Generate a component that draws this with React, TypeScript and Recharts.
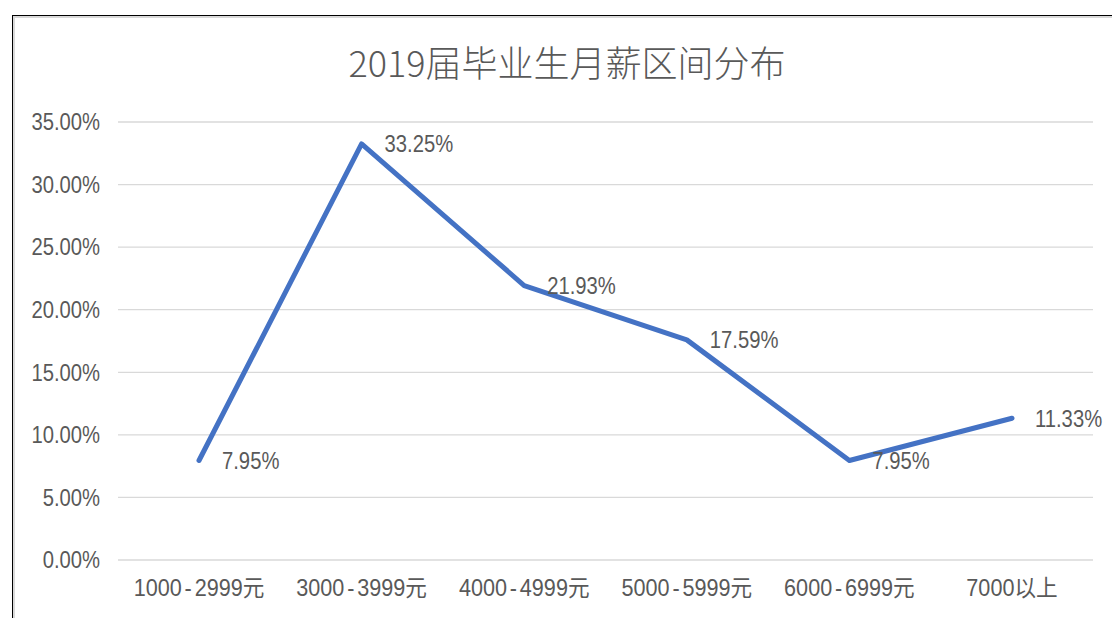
import React from 'react';
import {
  LineChart,
  Line,
  XAxis,
  YAxis,
  CartesianGrid,
  LabelList,
} from 'recharts';

const categories = [
  '1000-2999元',
  '3000-3999元',
  '4000-4999元',
  '5000-5999元',
  '6000-6999元',
  '7000以上',
];
const shares = [7.95, 33.25, 21.93, 17.59, 7.95, 11.33];
const yTicks = [0, 5, 10, 15, 20, 25, 30, 35];

const TEXT = '#595959';
const NUM_FONT = '"Liberation Sans", "Noto Sans CJK SC", sans-serif';
const FONT_SIZE = 23;
// the original uses a narrow face, so squeeze the glyphs horizontally
const SQUEEZE = 0.88;

const chartData = categories.map((name, i) => ({ name, value: shares[i] }));

function pct(v: number) {
  return `${v.toFixed(2)}%`;
}

function NarrowText({ x, y, anchor, squeeze = SQUEEZE, children }: any) {
  return (
    <text
      transform={`translate(${x},${y}) scale(${squeeze},1)`}
      dy="0.36em"
      textAnchor={anchor}
      fill={TEXT}
      fontSize={FONT_SIZE}
      fontFamily={NUM_FONT}
    >
      {children}
    </text>
  );
}

function YTick(props: any) {
  const { x, y, payload } = props;
  return (
    <NarrowText x={x} y={y} anchor="end">
      {pct(payload.value)}
    </NarrowText>
  );
}

function XTick(props: any) {
  const { x, y, payload } = props;
  const label: string = payload.value;
  const parts = label.split('-');
  return (
    <NarrowText x={x} y={y + 10} anchor="middle" squeeze={0.94}>
      {parts.length === 2 ? (
        <>
          {parts[0]}
          <tspan dx={3}>-</tspan>
          <tspan dx={3}>{parts[1]}</tspan>
        </>
      ) : (
        label
      )}
    </NarrowText>
  );
}

function PointLabel(props: any) {
  const { x, y, value } = props;
  return (
    <NarrowText x={x + 23} y={y} anchor="start">
      {pct(Number(value))}
    </NarrowText>
  );
}

export default function App() {
  return (
    <div
      style={{
        position: 'relative',
        width: 1112,
        height: 618,
        overflow: 'hidden',
        background: '#fff',
      }}
    >
      <style>{'body{margin:0}'}</style>
      {/* chart frame, cut off on the right and bottom */}
      <div
        style={{
          position: 'absolute',
          left: 12,
          top: 15,
          width: 1200,
          height: 700,
          border: '1px solid #000',
          boxSizing: 'border-box',
        }}
      >
        <div
          style={{
            position: 'absolute',
            inset: 0,
            border: '2px solid #d9d9d9',
          }}
        />
      </div>
      <div
        style={{
          position: 'absolute',
          left: 0,
          top: 39,
          width: 1134,
          textAlign: 'center',
          fontFamily: '"Noto Sans CJK SC", sans-serif',
          fontWeight: 300,
          fontSize: 36,
          lineHeight: '44px',
          color: TEXT,
        }}
      >
        2019届毕业生月薪区间分布
      </div>
      <div style={{ position: 'absolute', left: 0, top: 0 }}>
        <LineChart
          width={1112}
          height={618}
          data={chartData}
          margin={{ top: 122, right: 19, left: 18, bottom: 18 }}
        >
          <CartesianGrid vertical={false} stroke="#d9d9d9" strokeWidth={1.3} />
          <XAxis
            dataKey="name"
            height={40}
            padding={{ left: 81, right: 81 }}
            axisLine={false}
            tickLine={false}
            tickMargin={12}
            interval={0}
            tick={<XTick />}
          />
          <YAxis
            width={100}
            domain={[0, 35]}
            ticks={yTicks}
            axisLine={false}
            tickLine={false}
            tickMargin={12}
            tick={<YTick />}
          />
          <Line
            type="linear"
            dataKey="value"
            stroke="#4472C4"
            strokeWidth={5}
            strokeLinecap="round"
            strokeLinejoin="round"
            dot={false}
            activeDot={false}
            isAnimationActive={false}
          >
            <LabelList dataKey="value" content={<PointLabel />} />
          </Line>
        </LineChart>
      </div>
    </div>
  );
}
